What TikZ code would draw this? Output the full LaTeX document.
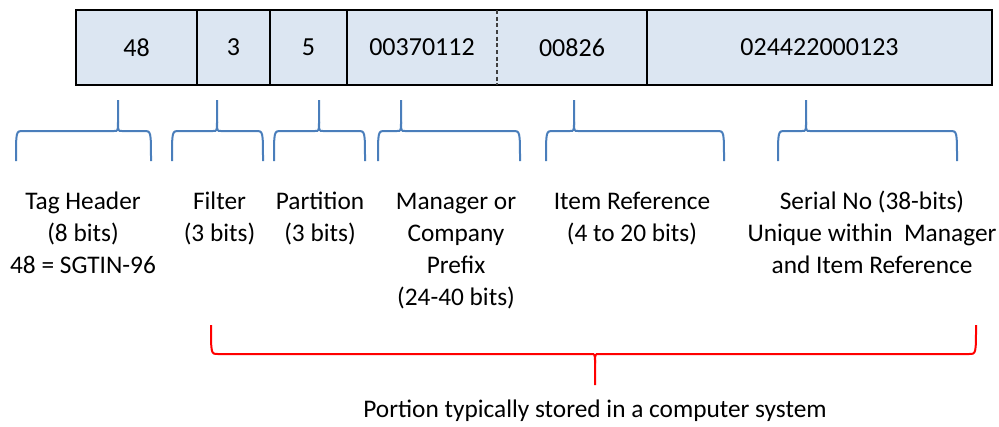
\documentclass[tikz,border=0pt]{standalone}
\usepackage{fontspec}
\setmainfont{Carlito}
\usetikzlibrary{positioning}
\definecolor{cellbg}{RGB}{220,230,242}
\definecolor{braceblue}{RGB}{74,126,187}
\definecolor{bracered}{RGB}{255,0,0}
% #1 style, #2 left x, #3 tip x, #4 right x, #5 end y, #6 bar y, #7 tip y
\newcommand{\bitbrace}[7]{%
  \draw[#1] (#2,#5) .. controls (#2,#6) .. (#2+7,#6) -- (#3-4,#6)
    .. controls (#3,#6) .. (#3,{#6+0.3*(#7-#6)}) -- (#3,#7);
  \draw[#1] (#4,#5) .. controls (#4,#6) .. (#4-7,#6) -- (#3+4,#6)
    .. controls (#3,#6) .. (#3,{#6+0.3*(#7-#6)});}

\begin{document}
\begin{tikzpicture}[x=0.75pt, y=-0.75pt,
    cell/.style={fill=cellbg, minimum height=75*0.75pt, inner sep=0pt,
      outer sep=0pt, font=\fontsize{19.5}{24}\selectfont},
    barline/.style={line width=1.5pt, black},
    lbl/.style={align=center, inner sep=0pt, anchor=base,
      font=\fontsize{19}{24}\selectfont},
    bluebrace/.style={braceblue, line width=1.5pt},
    redbrace/.style={bracered, line width=1.5pt}]
  \useasboundingbox (0,0) rectangle (999,426);

  % the 96-bit tag
  \node[cell, minimum width=121*0.75pt, anchor=north west] (hdr) at (76,10) {48};
  \node[cell, minimum width=73*0.75pt, right=0pt of hdr] (filter) {3};
  \node[cell, minimum width=77*0.75pt, right=0pt of filter] (part) {5};
  \node[cell, minimum width=150*0.75pt, right=0pt of part] (company) {00370112};
  \node[cell, minimum width=150*0.75pt, right=0pt of company] (item) {00826};
  \node[cell, minimum width=345*0.75pt, right=0pt of item] (serial) {024422000123};

  \draw[barline] (hdr.north west) rectangle (serial.south east);
  \foreach \c in {hdr, filter, part, item}
    \draw[barline] (\c.north east) -- (\c.south east);
  \draw[black!75, line width=1pt, dash pattern=on 3pt off 2pt]
    (company.north east) -- (company.south east);

  % field braces
  \bitbrace{bluebrace}{16}{118}{151}{161}{131}{100}
  \bitbrace{bluebrace}{172}{217}{263}{161}{131}{100}
  \bitbrace{bluebrace}{274}{319}{365}{161}{131}{100}
  \bitbrace{bluebrace}{378}{401}{520}{161}{131}{100}
  \bitbrace{bluebrace}{546}{574}{724}{161}{131}{100}
  \bitbrace{bluebrace}{778}{806}{957}{161}{131}{100}

  % field labels (base = last line)
  \node[lbl] (lhdr) at (83,273) {Tag Header\\(8 bits)\\48 = SGTIN-96};
  \node[lbl] (lfilter) at (219.5,241) {Filter\\(3 bits)};
  \node[lbl] (lpart) at (320,241) {Partition\\(3 bits)};
  \node[lbl] (lcompany) at (456,305) {Manager or\\Company\\Prefix\\(24-40 bits)};
  \node[lbl] (litem) at (632,241) {Item Reference\\(4 to 20 bits)};
  \node[lbl] (lserial) at (872,273)
    {Serial No (38-bits)\\Unique within~ Manager\\and Item Reference};

  % stored portion
  \bitbrace{redbrace}{211}{595}{976}{325}{354}{385}
  \node[lbl] (lstored) at (595,417) {Portion typically stored in a computer system};
\end{tikzpicture}
\end{document}
